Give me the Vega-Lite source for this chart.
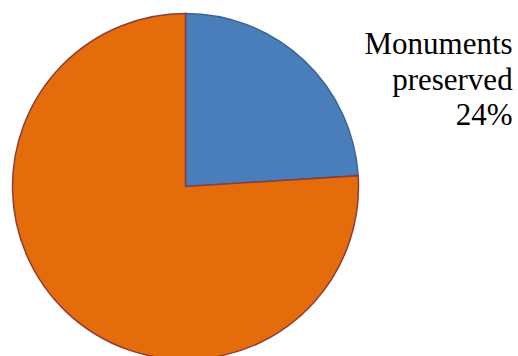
{
  "$schema": "https://vega.github.io/schema/vega-lite/v6.json",
  "autosize": "none",
  "width": 371,
  "height": 339,
  "padding": {"left": 0, "top": 17, "right": 147, "bottom": 0},
  "background": "white",
  "data": {
    "values": [
      {"category": "Monuments preserved", "value": 24, "order": 1, "label": "Monuments\npreserved\n24%"},
      {"category": "Other", "value": 76, "order": 2, "label": ""}
    ]
  },
  "encoding": {
    "theta": {"field": "value", "type": "quantitative", "stack": true},
    "order": {"field": "order", "type": "quantitative"}
  },
  "layer": [
    {
      "mark": {"type": "arc", "outerRadius": 173, "strokeWidth": 1.5},
      "encoding": {
        "color": {
          "field": "category",
          "type": "nominal",
          "scale": {"domain": ["Monuments preserved", "Other"], "range": ["#4A7EBB", "#E46C0A"]},
          "legend": null
        },
        "stroke": {
          "field": "category",
          "type": "nominal",
          "scale": {"domain": ["Monuments preserved", "Other"], "range": ["#3B6593", "#8E3B3A"]},
          "legend": null
        }
      }
    },
    {
      "mark": {
        "type": "text",
        "radius": 120,
        "dx": 245,
        "dy": -45,
        "align": "right",
        "baseline": "alphabetic",
        "font": "Liberation Serif",
        "fontSize": 31,
        "lineHeight": 35.5,
        "lineBreak": "\n",
        "color": "black"
      },
      "encoding": {
        "text": {"field": "label", "type": "nominal"}
      }
    }
  ],
  "config": {"view": {"stroke": null}}
}
